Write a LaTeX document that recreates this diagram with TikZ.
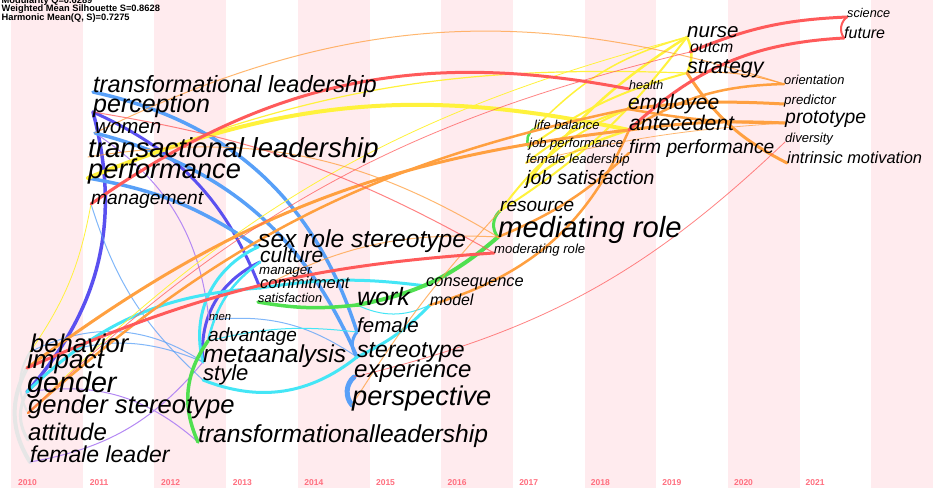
\documentclass[tikz,border=0pt]{standalone}
\usepackage{fontspec}
\setmainfont{Liberation Sans}
\pgfdeclarelayer{bg}
\pgfdeclarelayer{links}
\pgfsetlayers{bg,links,main}

\definecolor{stripe}{HTML}{FFEBEE}
\definecolor{yearlbl}{HTML}{FF6F7F}
\definecolor{c10}{HTML}{E6E6E6}
\definecolor{c11}{HTML}{5A50F0}
\definecolor{c12}{HTML}{B488F4}
\definecolor{c13}{HTML}{58A0F8}
\definecolor{c14}{HTML}{44E6F6}
\definecolor{c15}{HTML}{50E050}
\definecolor{c17}{HTML}{FFF23C}
\definecolor{c18}{HTML}{FFA040}
\definecolor{c19}{HTML}{FF5A5A}

\begin{document}
\begin{tikzpicture}[x=1pt,y=-1pt,
  kw/.style={anchor=base west,inner sep=0pt,font=\fontsize{#1}{#1}\selectfont\itshape},
  lk/.style={draw=#1,line cap=round},
  fine/.style={draw opacity=0.75},
  yearlab/.style={text=yearlbl,font=\fontsize{8.5}{8.5}\selectfont\bfseries,inner sep=0pt},
  hdr/.style={anchor=base west,inner sep=0pt,font=\fontsize{9.3}{9.3}\selectfont\bfseries}]
\useasboundingbox (0,0) rectangle (933,488);
\clip (0,0) rectangle (933,488);

% time-zone stripes and year labels
\begin{pgfonlayer}{bg}
  \fill[white] (0,0) rectangle (933,488);
  \foreach \i in {0,2,...,12}
    \fill[stripe] ({11+71.7*\i},0) rectangle ({11+71.7*(\i+1)},488);
\end{pgfonlayer}
\foreach \i [evaluate=\i as \yr using int(2010+\i)] in {0,...,11}
  \node[yearlab,name=yr\i] at ({27.5+71.6*\i},483) {\yr};

% summary statistics
\node[hdr,name=hq] at (1.5,3.5) {Modularity Q=0.6289};
\node[hdr,name=hs] at (1.5,11.8) {Weighted Mean Silhouette S=0.8628};
\node[hdr,name=hh] at (1.5,20.1) {Harmonic Mean(Q, S)=0.7275};

% keywords: 2010
\node[kw=25.6,name=behavior]   at (30,352) {behavior};
\node[kw=26,name=impact]       at (27,368) {impact};
\node[kw=28.7,name=gender]     at (27,392) {gender};
\node[kw=25.6,name=gstereo]    at (28,413) {gender stereotype};
\node[kw=24,name=attitude]     at (28,440) {attitude};
\node[kw=23,name=femleader]    at (30,462) {female leader};
% 2011
\node[kw=23.5,name=tfl]          at (93,92) {transformational leadership};
\node[kw=25,name=perception]     at (93,112) {perception};
\node[kw=20.5,name=women]        at (95,133) {women};
\node[kw=27.5,name=tal]          at (88,157) {transactional leadership};
\node[kw=27.2,name=performance]  at (88,178) {performance};
\node[kw=19.2,name=management]   at (91,204) {management};
% 2012
\node[kw=11.3,name=men]          at (209,320) {men};
\node[kw=19,name=advantage]      at (208,341) {advantage};
\node[kw=24.5,name=metaanalysis] at (203,362) {metaanalysis};
\node[kw=22,name=style]          at (203,380) {style};
\node[kw=24.6,name=tfl2]         at (198,442) {transformationalleadership};
% 2013
\node[kw=24.6,name=srs]          at (258,247) {sex role stereotype};
\node[kw=21,name=culture]        at (260,262) {culture};
\node[kw=13.3,name=manager]      at (259,274) {manager};
\node[kw=16.4,name=commitment]   at (260,288) {commitment};
\node[kw=12.8,name=satisfaction] at (258,302) {satisfaction};
% 2014
\node[kw=25,name=work]          at (357,305) {work};
\node[kw=20.5,name=female]      at (357,332) {female};
\node[kw=23,name=stereotype]    at (357,357) {stereotype};
\node[kw=24,name=experience]    at (354,377) {experience};
\node[kw=27.2,name=perspective] at (352,405) {perspective};
% 2015
\node[kw=16.4,name=consequence] at (426,286) {consequence};
\node[kw=15.9,name=model]       at (430,305) {model};
% 2016
\node[kw=19,name=resource]     at (500,211) {resource};
\node[kw=29.2,name=mediating]  at (498,237) {mediating role};
\node[kw=13.1,name=moderating] at (494,253) {moderating role};
% 2017
\node[kw=12.9,name=lifebal]  at (534,129) {life balance};
\node[kw=13,name=jobperf]    at (529,147) {job performance};
\node[kw=13.1,name=femlead]  at (526,163) {female leadership};
\node[kw=19.4,name=jobsat]   at (526,184) {job satisfaction};
% 2018
\node[kw=12.5,name=health]     at (629,89) {health};
\node[kw=21,name=employee]     at (628,109) {employee};
\node[kw=21.2,name=antecedent] at (629,130) {antecedent};
\node[kw=19.2,name=firmperf]   at (629,153) {firm performance};
% 2019
\node[kw=20.5,name=nurse]      at (687,37) {nurse};
\node[kw=15.8,name=outcm]      at (690,52) {outcm};
\node[kw=21.5,name=strategy]   at (687,73) {strategy};
% 2020
\node[kw=12.9,name=orientation] at (784,84) {orientation};
\node[kw=13.3,name=predictor]   at (784,104) {predictor};
\node[kw=19.4,name=prototype]   at (785,123) {prototype};
\node[kw=13,name=diversity]     at (785,142) {diversity};
\node[kw=16.4,name=intrinsic]   at (787,163) {intrinsic motivation};
% 2021
\node[kw=12.7,name=science] at (847,17) {science};
\node[kw=16,name=future]    at (844,38) {future};

\begin{pgfonlayer}{links}
% 2010
\draw[lk=c10,line width=4] (impact.base west) to[bend right=30] (femleader.base west);
\draw[lk=c10,line width=3] (gender.base west) to[bend right=30] (attitude.base west);
\draw[lk=c10,line width=2] (behavior.base west) to[bend right=30] (gstereo.base west);
% 2011
\draw[lk=c11,line width=3.5] (perception.base west) to[bend left=28] (gender.base west);
\draw[lk=c11,line width=3] (perception.base west) to[bend left=22] (commitment.base west);
\draw[lk=c11,line width=3] (culture.base west) to[bend right=35] (metaanalysis.base west);
% 2012
\draw[lk=c12,line width=1] (gender.base west) to[bend left=25] (tfl2.base west);
\draw[lk=c12,line width=1] (femleader.base west) to[bend right=20] (metaanalysis.base west);
\draw[lk=c12,line width=1] (women.base west) to[bend left=25] (men.base west);
% 2013
\draw[lk=c13,line width=3.5] (tfl.base west) to[bend left=30] (female.base west);
\draw[lk=c13,line width=3.5] (women.base west) to[bend left=26] (stereotype.base west);
\draw[lk=c13,line width=3.5] (performance.base west) to[bend left=12] (srs.base west);
\draw[lk=c13,line width=3] (female.base west) to[bend right=40] (stereotype.base west);
\draw[lk=c13,line width=5] (experience.base west) to[bend right=45] (perspective.base west);
\draw[lk=c13,line width=1,fine] (management.base west) to[bend right=15] (style.base west);
\draw[lk=c13,line width=1,fine] (behavior.base west) to[bend left=30] (metaanalysis.base west);
\draw[lk=c13,line width=1,fine] (impact.base west) to[bend left=25] (metaanalysis.base west);
\draw[lk=c13,line width=1,fine] (men.base west) to[bend left=20] (stereotype.base west);
% 2014
\draw[lk=c14,line width=3] (style.base west) to[bend right=30] (stereotype.base west);
\draw[lk=c14,line width=3] (stereotype.base west) to[bend right=10] (model.base west);
\draw[lk=c14,line width=3] (commitment.base west) to[bend left=8] (consequence.base west);
\draw[lk=c14,line width=3] (metaanalysis.base west) to[bend left=40] (srs.base west);
\draw[lk=c14,line width=2.5] (advantage.base west) to[bend left=20] (culture.base west);
\draw[lk=c14,line width=3] (gender.base west) to[bend left=20] (commitment.base west);
\draw[lk=c14,line width=1] (work.base west) to[bend right=25] (model.base west);
\draw[lk=c14,line width=1] (advantage.base west) to[bend left=10] (female.base west);
% 2015
\draw[lk=c15,line width=3.5] (satisfaction.base west) to[bend right=8] (work.base west);
\draw[lk=c15,line width=4] (work.base west) to[bend right=15] (mediating.base west);
\draw[lk=c15,line width=3.5] (tfl2.base west) to[bend left=30] (advantage.base west);
\draw[lk=c15,line width=3] (resource.base west) to[bend right=45] (mediating.base west);
\draw[lk=c15,line width=2.5] (lifebal.base west) to[bend right=45] (jobperf.base west);
% 2017
\draw[lk=c17,line width=4] (performance.base west) to[bend left=17] (antecedent.base west);
\draw[lk=c17,line width=0.8] (gstereo.base west) to[bend left=15] (nurse.base west);
\draw[lk=c17,line width=0.8] (management.base west) to[bend left=12] (behavior.base west);
\draw[lk=c17,line width=1.2] (performance.base west) to[bend left=12] (strategy.base west);
\draw[lk=c17,line width=2.5] (nurse.base west) to[bend right=10] (jobsat.base west);
\draw[lk=c17,line width=2] (nurse.base west) to[bend left=10] (resource.base west);
\draw[lk=c17,line width=1.5] (nurse.base west) to[bend right=15] (lifebal.base west);
\draw[lk=c17,line width=2.5] (nurse.base west) to[bend left=25] (strategy.base west);
\draw[lk=c17,line width=2] (strategy.base west) to[bend right=10] (jobperf.base west);
\draw[lk=c17,line width=2] (femlead.base west) to[bend left=10] (employee.base west);
\draw[lk=c17,line width=2.5] (jobsat.base west) to[bend left=10] (antecedent.base west);
\draw[lk=c17,line width=2] (resource.base west) to[bend left=15] (employee.base west);
% 2018
\draw[lk=c18,line width=3] (impact.base west) to[bend left=15] (antecedent.base west);
\draw[lk=c18,line width=2.5] (gstereo.base west) to[bend left=15] (employee.base west);
\draw[lk=c18,line width=3] (antecedent.base west) to[bend left=5] (prototype.base west);
\draw[lk=c18,line width=2.5] (employee.base west) to[bend right=5] (prototype.base west);
\draw[lk=c18,line width=3] (employee.base west) to[bend left=5] (predictor.base west);
\draw[lk=c18,line width=2.5] (antecedent.base west) to[bend left=15] (orientation.base west);
\draw[lk=c18,line width=3] (strategy.base west) to[bend right=15] (intrinsic.base west);
\draw[lk=c18,line width=1] (strategy.base west) to[bend left=10] (orientation.base west);
\draw[lk=c18,line width=2.5] (model.base west) to[bend right=25] (antecedent.base west);
\draw[lk=c18,line width=1,fine] (tal.base west) to[bend left=20] (mediating.base west);
\draw[lk=c18,line width=1,fine] (women.base west) to[bend left=22] (orientation.base west);
\draw[lk=c18,line width=1,fine] (perspective.base west) to[bend left=5] (resource.base west);
\draw[lk=c18,line width=1,fine] (commitment.base west) to[bend left=15] (mediating.base west);
\draw[lk=c18,line width=0.8,fine] (femlead.base west) to[bend left=5] (prototype.base west);
\draw[lk=c18,line width=2.5] (mediating.base west) to[bend right=10] (firmperf.base west);
% 2019
\draw[lk=c19,line width=3] (management.base west) to[bend left=23] (health.base west);
\draw[lk=c19,line width=3] (impact.base west) to[bend left=10] (moderating.base west);
\draw[lk=c19,line width=3] (antecedent.base west) to[bend left=20] (future.base west);
\draw[lk=c19,line width=3] (outcm.base west) to[bend left=10] (science.base west);
\draw[lk=c19,line width=2] (science.base west) to[bend right=45] (future.base west);
\draw[lk=c19,line width=1,fine] (perception.base west) to[bend left=10] (moderating.base west);
\draw[lk=c19,line width=0.8,fine] (gstereo.base west) to[bend left=15] (outcm.base west);
\draw[lk=c19,line width=0.8,fine] (experience.base west) to[bend right=15] (diversity.base west);
\end{pgfonlayer}
\end{tikzpicture}
\end{document}
